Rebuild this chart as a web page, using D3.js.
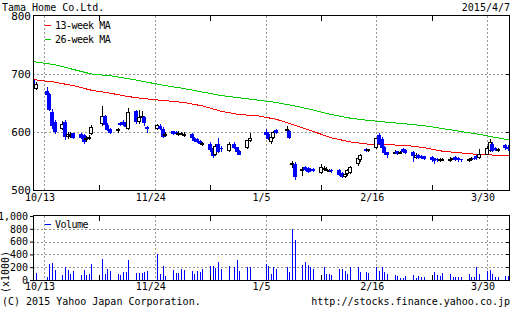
<!DOCTYPE html>
<html>
<head>
<meta charset="utf-8">
<script src="https://cdn.jsdelivr.net/npm/d3@7"></script>
<style>
  body { margin: 0; background: #fff; }
  svg { display: block; font-family: "DejaVu Sans Mono", monospace; }
</style>
</head>
<body>
<svg id="chart" width="512" height="310"></svg>
<script>
// daily prices (yen) and volume (x1000 shares)
const dates = [
  "2014-10-09","2014-10-10","2014-10-14","2014-10-15","2014-10-16","2014-10-17",
  "2014-10-20","2014-10-21","2014-10-22","2014-10-23","2014-10-24",
  "2014-10-27","2014-10-28","2014-10-29","2014-10-30","2014-10-31",
  "2014-11-04","2014-11-05","2014-11-06","2014-11-07",
  "2014-11-10","2014-11-11","2014-11-12","2014-11-13","2014-11-14",
  "2014-11-17","2014-11-18","2014-11-19","2014-11-20","2014-11-21",
  "2014-11-25","2014-11-26","2014-11-27","2014-11-28",
  "2014-12-01","2014-12-02","2014-12-03","2014-12-04","2014-12-05",
  "2014-12-08","2014-12-09","2014-12-10","2014-12-11","2014-12-12",
  "2014-12-15","2014-12-16","2014-12-17","2014-12-18","2014-12-19",
  "2014-12-22","2014-12-24","2014-12-25","2014-12-26","2014-12-29","2014-12-30",
  "2015-01-05","2015-01-06","2015-01-07","2015-01-08","2015-01-09",
  "2015-01-13","2015-01-14","2015-01-15","2015-01-16",
  "2015-01-19","2015-01-20","2015-01-21","2015-01-22","2015-01-23",
  "2015-01-26","2015-01-27","2015-01-28","2015-01-29","2015-01-30",
  "2015-02-02","2015-02-03","2015-02-04","2015-02-05","2015-02-06",
  "2015-02-09","2015-02-10","2015-02-12","2015-02-13",
  "2015-02-16","2015-02-17","2015-02-18","2015-02-19","2015-02-20",
  "2015-02-23","2015-02-24","2015-02-25","2015-02-26","2015-02-27",
  "2015-03-02","2015-03-03","2015-03-04","2015-03-05","2015-03-06",
  "2015-03-09","2015-03-10","2015-03-11","2015-03-12","2015-03-13",
  "2015-03-16","2015-03-17","2015-03-18","2015-03-19","2015-03-20",
  "2015-03-23","2015-03-24","2015-03-25","2015-03-26","2015-03-27",
  "2015-03-30","2015-03-31","2015-04-01","2015-04-02","2015-04-03",
  "2015-04-06","2015-04-07"
];
const open = [690,674,670,666,634,617, 605,617,592,596,598, 597,594,586,590,596,
  613,627,612,606, 601,616,618,617,606, 636,617,626,626,609, 605,611,606,594,
  601,600,597,596,596, 597,590,588,585,580, 580,572,560,580,572,
  568,580,574,567,572,584, 600,596,583,590,604, 602,601,545,545,
  536,540,538,537,537, 530,537,536,535,534, 535,530,522,527,530,
  544,551,571,569, 572,595,588,575,565, 566,567,565,570,569,
  566,556,560,558,558, 557,555,554,552,553, 553,555,557,556,553,
  553,553,556,558,555, 561,567,580,572,569, 578,575];
const high = [692,686,677,668,640,620, 619,620,600,600,599, 598,596,593,594,612,
  645,630,615,607, 607,618,620,619,642, 638,638,636,628,611, 614,613,608,600,
  602,601,601,600,600, 598,592,589,586,583, 582,574,580,590,576,
  582,582,575,569,587,598, 605,600,592,602,606, 610,604,550,549,
  540,541,539,538,538, 545,541,539,537,536, 536,531,530,536,541,
  560,562,573,571, 590,598,592,576,566, 569,568,567,572,570,
  568,563,562,560,559, 558,556,555,555,555, 557,557,558,557,554,
  556,557,557,560,570, 576,588,582,574,572, 579,577];
const low = [679,672,662,636,606,597, 603,586,588,590,588, 588,580,583,586,594,
  610,608,601,597, 599,610,610,606,604, 614,614,615,610,599, 603,603,590,592,
  594,595,593,594,592, 588,583,581,579,576, 566,556,558,563,565,
  565,570,564,560,570,583, 590,586,580,588,596, 600,588,538,518,
  524,532,530,531,531, 528,534,533,532,530, 524,520,520,525,528,
  542,549,566,566, 570,578,570,560,556, 562,560,562,563,562,
  548,554,554,553,551, 549,545,549,549,550, 549,551,550,549,548,
  549,550,552,552,554, 560,565,566,567,566, 569,568];
const close = [681,683,664,638,611,600, 614,592,596,597,589, 590,583,590,592,609,
  628,612,603,599, 605,612,612,608,635, 617,626,627,616,606, 612,606,592,597,
  596,597,598,598,597, 590,584,582,580,581, 569,558,576,565,571,
  580,572,566,561,586,590, 594,588,591,600,598, 606,590,546,522,
  537,535,531,533,533, 540,538,536,535,533, 526,522,528,534,540,
  555,560,568,570, 589,580,572,563,560, 566,562,566,565,564,
  558,561,556,555,553, 551,550,551,553,553, 554,556,551,551,551,
  553,555,554,555,562, 572,583,568,569,570, 572,571];
const volume = [60,104,52,249,269,155, 78,197,155,93,140, 78,155,78,93,249,
  326,93,171,140, 93,78,124,124,311, 104,104,104,130,140, 414,93,218,62,
  155,104,114,171,155, 140,93,140,130,171, 218,218,181,285,171,
  218,197,311,145,202,202, 249,218,93,197,171, 197,124,803,622,
  233,280,233,207,171, 78,197,93,93,78, 171,166,145,93,197,
  197,124,124,114, 197,145,197,130,93, 78,62,36,36,62,
  78,36,62,41,41, 78,130,83,62,104, 93,41,41,52,52,
  93,52,41,197,93, 145,155,93,41,41, 62,62];

// moving averages read at weekly points
const maDates = ["2014-10-08","2014-10-17","2014-10-24","2014-10-31","2014-11-07","2014-11-14",
  "2014-11-21","2014-11-28","2014-12-05","2014-12-12","2014-12-19","2014-12-26","2015-01-02",
  "2015-01-09","2015-01-16","2015-01-23","2015-01-30","2015-02-06","2015-02-13","2015-02-20",
  "2015-02-27","2015-03-06","2015-03-13","2015-03-20","2015-03-27","2015-04-03","2015-04-08"];
const ma13 = [691,686,680,672,667,661,657,654,651,645,636,630,628,622,612,601,590,583,579,578,577,573,567,564,561,560,560];
const ma26 = [722,716,708,700,697,692,686,680,675,669,663,659,655,651,645,638,630,624,620,617,614,611,606,601,596,590,586];

const majorDates = ["2014-10-13","2014-11-24","2015-01-05","2015-02-16","2015-03-30"];
const majorLabels = ["10/13","11/24","1/5","2/16","3/30"];
const minorDates = ["2014-11-03","2014-12-15","2015-01-26","2015-03-09"];
const priceTicks = [500,600,700,800];
const volTicks = [0,200,400,600,800,1000];

const BLUE = "#0000ff";
const parse = d3.timeParse("%Y-%m-%d");

const L = 33, R = 510;
const pTop = 16, pBot = 190, vTop = 216, vBot = 280;

const x = d3.scaleTime()
  .domain([new Date(2014, 9, 8, 20), new Date(2015, 3, 7, 17)])
  .range([L, R]);
const yP = d3.scaleLinear().domain([500, 800]).range([pBot, pTop]);
const yV = d3.scaleLinear().domain([0, 1000]).range([vBot, vTop]);

const svg = d3.select("#chart");
const px = v => Math.round(v) + 0.5;

const days = dates.map((d, i) => ({
  date: parse(d), o: open[i], h: high[i], l: low[i], c: close[i], v: volume[i]
}));

svg.append("defs").append("clipPath").attr("id", "pclip")
  .append("rect").attr("x", L + 0.5).attr("y", pTop - 0.5).attr("width", R - L - 0.5).attr("height", pBot - pTop + 0.5);

// grid lines
function grid(top, bottom, yScale, vals) {
  const g = svg.append("g")
    .attr("stroke", "#999").attr("stroke-dasharray", "2,2").attr("shape-rendering", "crispEdges");
  majorDates.forEach(d => {
    g.append("line").attr("x1", px(x(parse(d)))).attr("x2", px(x(parse(d))))
      .attr("y1", top).attr("y2", bottom);
  });
  vals.forEach(v => {
    g.append("line").attr("x1", L).attr("x2", R)
      .attr("y1", px(yScale(v))).attr("y2", px(yScale(v)));
  });
}
grid(pTop, pBot, yP, [600, 700]);
grid(vTop, vBot, yV, [200, 400, 600, 800]);

// moving average lines
const maLine = vals => d3.line()
  .x((d, i) => x(parse(d)))
  .y((d, i) => yP(vals[i]))(maDates);
const maG = svg.append("g").attr("clip-path", "url(#pclip)").attr("fill", "none")
  .attr("shape-rendering", "crispEdges");
maG.append("path").attr("d", maLine(ma26)).attr("stroke", "#00cc00");
maG.append("path").attr("d", maLine(ma13)).attr("stroke", "#ff0000");

// candles
const cg = svg.append("g").attr("clip-path", "url(#pclip)").attr("shape-rendering", "crispEdges");
days.forEach(d => {
  const cx = Math.round(x(d.date));
  const up = d.c >= d.o;
  const col = up ? "#000" : BLUE;
  cg.append("rect").attr("x", cx).attr("width", 1)
    .attr("y", Math.round(yP(d.h))).attr("height", Math.max(1, Math.round(yP(d.l)) - Math.round(yP(d.h))))
    .attr("fill", col);
  const top = Math.round(yP(Math.max(d.o, d.c)));
  const bot = Math.round(yP(Math.min(d.o, d.c)));
  if (up) {
    cg.append("rect").attr("x", cx - 1.5).attr("y", top + 0.5)
      .attr("width", 3).attr("height", Math.max(1, bot - top - 1))
      .attr("fill", "#fff").attr("stroke", "#000");
  } else {
    cg.append("rect").attr("x", cx - 2).attr("y", top)
      .attr("width", 4).attr("height", Math.max(1, bot - top))
      .attr("fill", BLUE);
  }
});

// volume bars
svg.append("g").attr("shape-rendering", "crispEdges")
  .selectAll("rect").data(days).join("rect")
  .attr("x", d => Math.round(x(d.date)))
  .attr("width", 1)
  .attr("y", d => Math.round(yV(d.v)))
  .attr("height", d => vBot - Math.round(yV(d.v)))
  .attr("fill", BLUE);

// frames and small ticks
function frame(top, bottom) {
  const g = svg.append("g").attr("stroke", "#000").attr("fill", "none").attr("shape-rendering", "crispEdges");
  g.append("rect").attr("x", L + 0.5).attr("y", top - 0.5).attr("width", R - L - 1).attr("height", bottom - top + 1);
  minorDates.forEach(d => {
    const xx = px(x(parse(d)));
    g.append("line").attr("x1", xx).attr("x2", xx).attr("y1", top).attr("y2", top + 5);
    g.append("line").attr("x1", xx).attr("x2", xx).attr("y1", bottom - 5).attr("y2", bottom);
  });
  return g;
}
const pf = frame(pTop, pBot);
[600, 700].forEach(v => pf.append("line").attr("x1", R - 4).attr("x2", R)
  .attr("y1", px(yP(v))).attr("y2", px(yP(v))));
const vf = frame(vTop, vBot);
[200, 400, 600, 800].forEach(v => vf.append("line").attr("x1", R - 4).attr("x2", R)
  .attr("y1", px(yV(v))).attr("y2", px(yV(v))));

// axes
const yAxisP = svg.append("g").attr("transform", `translate(${L},0)`)
  .call(d3.axisLeft(yP).tickValues(priceTicks).tickSize(0).tickPadding(2));
const yAxisV = svg.append("g").attr("transform", `translate(${L},0)`)
  .call(d3.axisLeft(yV).tickValues(volTicks).tickSize(3).tickPadding(2));
const xAxisP = svg.append("g").attr("transform", `translate(0,${pBot})`)
  .call(d3.axisBottom(x).tickValues(majorDates.map(parse)).tickFormat((d, i) => majorLabels[i]).tickSize(0).tickPadding(4));
const xAxisV = svg.append("g").attr("transform", `translate(0,${vBot})`)
  .call(d3.axisBottom(x).tickValues(majorDates.map(parse)).tickFormat((d, i) => majorLabels[i]).tickSize(0).tickPadding(3));
[yAxisP, yAxisV, xAxisP, xAxisV].forEach(a => {
  a.select(".domain").remove();
  a.attr("font-family", null).attr("font-size", null);
  a.selectAll("text").attr("fill", "#000").style("font-size", "10px");
});
yAxisP.selectAll("text").style("font-size", "11px");
xAxisP.selectAll("text").attr("dx", -4.5);
xAxisV.selectAll("text").attr("dx", -4.5);

// titles and legends
svg.append("text").attr("x", 2).attr("y", 11).style("font-size", "10px").text("Tama Home Co.Ltd.");
svg.append("text").attr("x", 510).attr("y", 11).attr("text-anchor", "end").style("font-size", "10px").text("2015/4/7");

function legend(y, color, label) {
  svg.append("line").attr("x1", 45).attr("x2", 51).attr("y1", y + 0.5).attr("y2", y + 0.5)
    .attr("stroke", color).attr("shape-rendering", "crispEdges");
  svg.append("text").attr("x", 55).attr("y", y + 4).style("font-size", "10px")
    .attr("letter-spacing", "-0.5").text(label);
}
legend(25, "#ff0000", "13-week MA");
legend(39, "#00cc00", "26-week MA");
legend(224, BLUE, "Volume");

svg.append("text").attr("transform", "translate(9,272) rotate(-90)")
  .attr("text-anchor", "middle").style("font-size", "10px").text("(x1000)");

svg.append("text").attr("x", 2).attr("y", 305).style("font-size", "10px").text("(C) 2015 Yahoo Japan Corporation.");
svg.append("text").attr("x", 510).attr("y", 305).attr("text-anchor", "end").style("font-size", "10px").text("http://stocks.finance.yahoo.co.jp");
</script>
</body>
</html>
